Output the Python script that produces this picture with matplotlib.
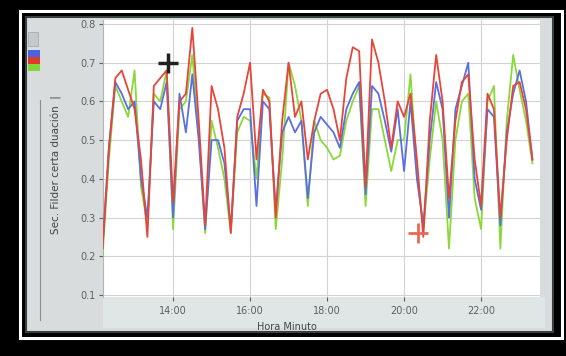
import matplotlib
matplotlib.use("Agg")
import matplotlib.pyplot as plt
from matplotlib.patches import Rectangle
import numpy as np

# ---- data (10-minute samples starting 12:10) ----
start_hour = 12 + 10 / 60
step_hours = 10 / 60
red = [0.22, 0.48, 0.66, 0.68, 0.63, 0.58, 0.45, 0.25, 0.64, 0.66,
       0.68, 0.34, 0.60, 0.62, 0.79, 0.55, 0.28, 0.64, 0.58, 0.48,
       0.26, 0.56, 0.62, 0.70, 0.45, 0.63, 0.60, 0.30, 0.55, 0.70,
       0.56, 0.60, 0.45, 0.55, 0.62, 0.63, 0.58, 0.50, 0.66, 0.74,
       0.73, 0.38, 0.76, 0.70, 0.60, 0.48, 0.60, 0.56, 0.62, 0.45,
       0.25, 0.55, 0.72, 0.60, 0.35, 0.55, 0.65, 0.67, 0.45, 0.33,
       0.62, 0.58, 0.30, 0.50, 0.64, 0.65, 0.58, 0.45]
blue = [0.22, 0.48, 0.65, 0.62, 0.58, 0.60, 0.40, 0.30, 0.60, 0.58,
        0.65, 0.30, 0.62, 0.52, 0.67, 0.50, 0.27, 0.50, 0.50, 0.44,
        0.27, 0.55, 0.58, 0.58, 0.33, 0.60, 0.58, 0.32, 0.52, 0.56,
        0.52, 0.55, 0.35, 0.52, 0.56, 0.54, 0.52, 0.48, 0.58, 0.62,
        0.65, 0.36, 0.64, 0.62, 0.55, 0.47, 0.58, 0.42, 0.60, 0.40,
        0.28, 0.50, 0.65, 0.58, 0.30, 0.58, 0.64, 0.70, 0.40, 0.32,
        0.58, 0.56, 0.28, 0.52, 0.62, 0.68, 0.60, 0.45]
green = [0.20, 0.45, 0.64, 0.60, 0.56, 0.68, 0.38, 0.28, 0.62, 0.60,
         0.68, 0.27, 0.58, 0.60, 0.72, 0.52, 0.26, 0.55, 0.48, 0.40,
         0.26, 0.52, 0.56, 0.55, 0.40, 0.62, 0.61, 0.27, 0.45, 0.70,
         0.64, 0.55, 0.33, 0.55, 0.50, 0.48, 0.45, 0.46, 0.55, 0.60,
         0.64, 0.33, 0.58, 0.58, 0.50, 0.42, 0.50, 0.50, 0.67, 0.42,
         0.27, 0.45, 0.60, 0.50, 0.22, 0.50, 0.60, 0.62, 0.35, 0.27,
         0.60, 0.64, 0.22, 0.55, 0.72, 0.63, 0.55, 0.44]
cursor_times = [13.87, 20.35]
cursor_values = [0.70, 0.26]
xtick_hours = [14, 16, 18, 20, 22]
xtick_labels = ["14:00", "16:00", "18:00", "20:00", "22:00"]
ytick_values = [0.1, 0.2, 0.3, 0.4, 0.5, 0.6, 0.7, 0.8]

hours = start_hour + step_hours * np.arange(len(red))

W, H = 566, 356
fig = plt.figure(figsize=(W / 100, H / 100), dpi=100, facecolor="black")

def fx(px):
    return px / W

def fy(py):
    return 1 - py / H

# white frame line
fig.patches.append(Rectangle((fx(20), fy(338)), fx(562) - fx(20), fy(11) - fy(338),
                             transform=fig.transFigure, fill=False,
                             edgecolor="white", linewidth=2.2, zorder=-3))
# gray panel
fig.patches.append(Rectangle((fx(26), fy(332)), fx(553) - fx(26), fy(17) - fy(332),
                             transform=fig.transFigure, facecolor="#d8dcdc",
                             edgecolor="#3a3f3f", linewidth=1.5, zorder=-3))
# lighter bottom band
fig.patches.append(Rectangle((fx(103), fy(328)), fx(545) - fx(103), fy(297) - fy(328),
                             transform=fig.transFigure, facecolor="#e0e5e5",
                             edgecolor="none", zorder=-2))
# small icon above legend
fig.patches.append(Rectangle((fx(28), fy(46)), fx(10), 14 / H,
                             transform=fig.transFigure, facecolor="#c4caca",
                             edgecolor="#a8aeae", linewidth=0.6, zorder=-1))
# legend swatches
for i, c in enumerate(["#4a62e0", "#e03a2c", "#7fd83a"]):
    fig.patches.append(Rectangle((fx(28), fy(57 + 7 * i)), fx(12), 7 / H,
                                 transform=fig.transFigure, facecolor=c,
                                 edgecolor="none", zorder=-1))
# small vertical line at left
fig.add_artist(plt.Line2D([fx(40), fx(40)], [fy(320), fy(100)], transform=fig.transFigure,
                          color="#8a9090", linewidth=0.8, zorder=-1))

ax = fig.add_axes([fx(103), fy(297), fx(540) - fx(103), fy(20) - fy(297)])
ax.set_zorder(5)
ax.set_facecolor("white")
ax.set_xlim(12.18, 23.53)
ax.set_ylim(0.0948, 0.8103)
ax.grid(True, color="#d0d4d4", linewidth=0.8)
ax.set_axisbelow(True)

ax.plot(hours, green, color="#8ad83a", linewidth=1.3, zorder=3)
ax.plot(hours, blue, color="#5a6fe0", linewidth=1.3, zorder=4)
ax.plot(hours, red, color="#e8453a", linewidth=1.3, zorder=5)

ax.plot(cursor_times[0], cursor_values[0], marker="+", color="#202020",
        markersize=15, markeredgewidth=2.5, zorder=6)
ax.plot(cursor_times[1], cursor_values[1], marker="+", color="#e86a50",
        markersize=14, markeredgewidth=2, zorder=6)

ax.set_xticks(xtick_hours)
ax.set_xticklabels(xtick_labels)
ax.set_yticks(ytick_values)
ax.set_yticklabels([f"{v:.1f}" for v in ytick_values])
ax.tick_params(axis="both", labelsize=7, colors="#5a5f5f", length=3, width=0.8)
ax.tick_params(axis="y", pad=2)
for s in ["top", "right"]:
    ax.spines[s].set_visible(False)
ax.spines["bottom"].set_visible(False)
ax.spines["left"].set_color("#b0b5b5")

ax.set_xlabel("Hora Minuto", fontsize=7, color="#404545", labelpad=4)
ax.xaxis.set_label_coords(0.42, -0.09)
fig.text(fx(57), fy(165), "Sec. Filder certa duación  |", rotation=90,
         fontsize=7.5, color="#404545", ha="center", va="center")

fig.savefig("out.png", dpi=100, facecolor=fig.get_facecolor())
